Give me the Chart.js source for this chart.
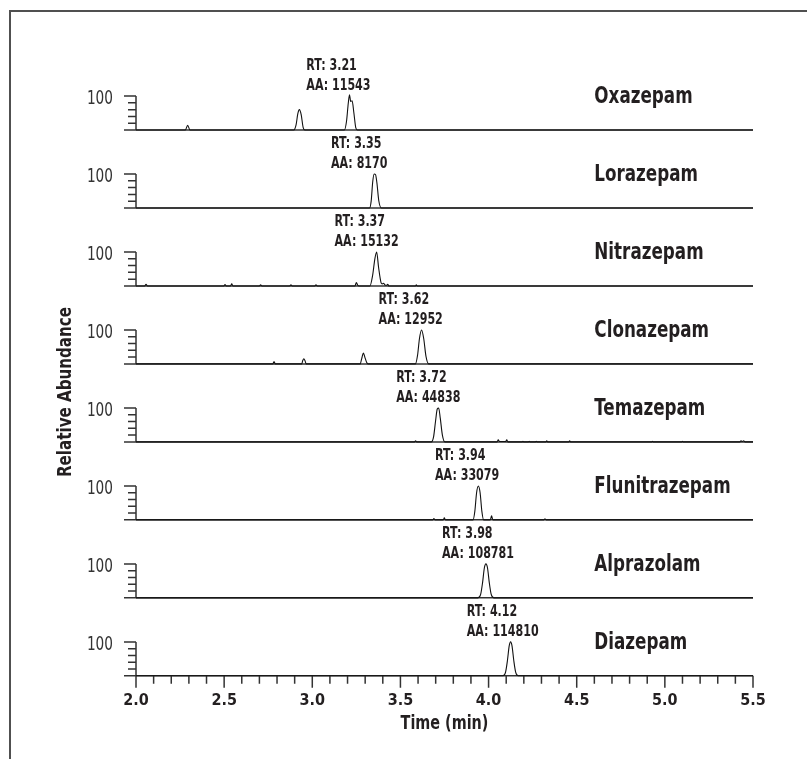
<!DOCTYPE html>
<html>
<head>
<meta charset="utf-8">
<script src="https://cdn.jsdelivr.net/npm/chart.js@4.4.1/dist/chart.umd.min.js"></script>
<style>
  html, body { margin: 0; padding: 0; background: #fff; }
  #wrap { position: relative; width: 807px; height: 759px; overflow: hidden; }
  #frame { position: absolute; left: 9px; top: 10px; right: -5px; bottom: -5px;
           border-top: 2px solid #505050; border-left: 2px solid #505050; }
  canvas { position: absolute; left: 0; top: 0; }
</style>
</head>
<body>
<div id="wrap">
  <div id="frame"></div>
  <canvas id="chromChart" width="807" height="759"></canvas>
</div>
<script>
const compounds = ['Oxazepam', 'Lorazepam', 'Nitrazepam', 'Clonazepam', 'Temazepam', 'Flunitrazepam', 'Alprazolam', 'Diazepam'];
const retentionTimes = ['3.21', '3.35', '3.37', '3.62', '3.72', '3.94', '3.98', '4.12'];
const peakAreas = ['11543', '8170', '15132', '12952', '44838', '33079', '108781', '114810'];
const timeTicks = [2.0, 2.5, 3.0, 3.5, 4.0, 4.5, 5.0, 5.5];
const abundanceTicks = [0, 20, 40, 60, 80, 100];

const oxazepam = [[2.0,0],[2.28,0],[2.293,14],[2.306,0],[2.895,0],[2.908,15],[2.918,48],[2.927,60],[2.937,45],
  [2.948,8],[2.958,0],[3.182,0],[3.194,25],[3.204,78],[3.211,104],[3.218,84],[3.226,86],[3.236,50],[3.247,6],[3.256,0],[5.5,0]];
const lorazepam = [[2.0,0],[3.325,0],[3.334,20],[3.343,78],[3.351,100],[3.359,98],[3.367,72],[3.377,22],[3.392,0],[5.5,0]];
const nitrazepam = [[2.0,0],[2.05,0],[2.057,5],[2.064,0],[2.498,0],[2.505,4],[2.512,0],[2.536,0],[2.543,6],[2.55,0],
  [2.7,0],[2.707,3],[2.714,0],[2.872,0],[2.879,3],[2.886,0],[3.014,0],[3.021,3],[3.028,0],[3.242,0],[3.25,10],[3.258,2],
  [3.265,0],[3.327,0],[3.342,30],[3.355,80],[3.365,100],[3.376,55],[3.39,10],[3.397,6],[3.404,8],[3.412,3],[3.422,2],
  [3.428,5],[3.434,0],[3.585,0],[3.59,3],[3.595,0],[5.5,0]];
const clonazepam = [[2.0,0],[2.776,0],[2.783,7],[2.79,0],[2.94,0],[2.946,10],[2.952,15],[2.959,9],[2.965,0],[3.272,0],
  [3.28,15],[3.29,32],[3.298,20],[3.308,5],[3.316,0],[3.585,0],[3.597,25],[3.608,75],[3.62,100],[3.632,75],[3.645,22],[3.66,0],[5.5,0]];
const temazepam = [[2.0,0],[3.58,0],[3.586,3],[3.592,0],[3.675,0],[3.688,15],[3.699,60],[3.709,97],[3.717,100],[3.726,70],
  [3.738,20],[3.752,0],[4.048,0],[4.055,6],[4.062,1],[4.097,1],[4.103,6],[4.11,0],[4.19,0],[4.195,2],[4.2,0],[4.225,0],
  [4.23,2],[4.235,0],[4.265,0],[4.27,2],[4.275,0],[4.325,0],[4.33,3],[4.335,0],[4.455,0],[4.46,3],[4.465,0],[4.925,0],
  [4.93,2],[4.935,0],[5.095,0],[5.1,2],[5.105,0],[5.425,0],[5.432,3],[5.44,1],[5.447,3],[5.455,0],[5.5,0]];
const flunitrazepam = [[2.0,0],[3.684,0],[3.69,4],[3.696,0],[3.743,0],[3.749,6],[3.755,0],[3.912,0],[3.922,25],[3.932,80],
  [3.942,100],[3.952,80],[3.962,25],[3.972,0],[4.01,0],[4.017,12],[4.024,0],[4.315,0],[4.32,3],[4.325,0],[5.5,0]];
const alprazolam = [[2.0,0],[3.94,0],[3.955,10],[3.966,45],[3.976,88],[3.985,100],[3.994,88],[4.004,45],[4.015,10],[4.03,0],[5.5,0]];
const diazepam = [[2.0,0],[4.082,0],[4.096,10],[4.107,45],[4.117,88],[4.125,100],[4.133,88],[4.143,45],[4.154,10],[4.168,0],[5.5,0]];

const traces = [oxazepam, lorazepam, nitrazepam, clonazepam, temazepam, flunitrazepam, alprazolam, diazepam];

// Estilo
const FONT = '"DejaVu Sans Condensed", "Liberation Sans Narrow", "Liberation Sans", sans-serif';
const INK = '#231f20';
const LINE = '#333333';
const Y_MAX = 230;       // 100 % ocupa ~34 px de cada panel
const MINOR_STEP = 0.1;  // marcas menores del eje de tiempo
const NAME_X = 4.6;      // posición (min) de los nombres de compuestos

Chart.defaults.font.family = FONT;
Chart.defaults.color = INK;

// Texto estrecho: la fuente disponible es más ancha que la del original
function narrowText(ctx, text, x, y, squeeze) {
  ctx.save();
  ctx.translate(x, y);
  ctx.scale(squeeze, 1);
  ctx.fillText(text, 0, 0);
  ctx.restore();
}

const scales = {
  x: {
    type: 'linear',
    position: 'bottom',
    min: 2.0,
    max: 5.5,
    afterBuildTicks: scale => { scale.ticks = timeTicks.map(v => ({ value: v })); },
    ticks: {
      font: { size: 16, weight: 'bold' },
      color: INK,
      padding: 3,
      maxRotation: 0,
      callback: v => v.toFixed(1)
    },
    grid: { display: true, drawOnChartArea: false, drawTicks: true, tickLength: 12, color: 'transparent', tickColor: 'transparent' },
    border: { display: false }
  }
};
// Los ejes apilados se colocan de abajo arriba: se crean al revés
for (let i = compounds.length - 1; i >= 0; i--) {
  scales['y' + i] = {
    type: 'linear',
    position: 'left',
    stack: 'panels',
    stackWeight: 1,
    min: 0,
    max: Y_MAX,
    display: false
  };
}

// Dibuja ejes de cada panel, textos y marcas del eje de tiempo
const panelDecor = {
  id: 'panelDecor',
  beforeDatasetsDraw(chart) {
    const { ctx, chartArea } = chart;
    const xs = chart.scales.x;
    ctx.save();
    ctx.strokeStyle = LINE;
    ctx.lineWidth = 1.5;
    compounds.forEach((name, i) => {
      const ys = chart.scales['y' + i];
      const y0 = ys.getPixelForValue(0);
      const y100 = ys.getPixelForValue(100);
      ctx.beginPath();
      ctx.moveTo(chartArea.left - 12, y0);
      ctx.lineTo(chartArea.right, y0);
      ctx.moveTo(chartArea.left, y0);
      ctx.lineTo(chartArea.left, y100);
      abundanceTicks.forEach(v => {
        if (v === 0) return;
        const y = ys.getPixelForValue(v);
        ctx.moveTo(chartArea.left - (v === 100 ? 12 : 8), y);
        ctx.lineTo(chartArea.left, y);
      });
      ctx.stroke();
    });
    // marcas del eje de tiempo
    const yb = chart.scales['y' + (compounds.length - 1)].getPixelForValue(0);
    ctx.beginPath();
    for (let k = 0; k <= Math.round((xs.max - xs.min) / MINOR_STEP); k++) {
      const x = xs.getPixelForValue(xs.min + k * MINOR_STEP);
      ctx.moveTo(x, yb);
      ctx.lineTo(x, yb + (k % 5 === 0 ? 12 : 8));
    }
    ctx.stroke();
    ctx.restore();
  },
  afterDraw(chart) {
    const { ctx, chartArea } = chart;
    const xs = chart.scales.x;
    ctx.save();
    ctx.textBaseline = 'middle';
    compounds.forEach((name, i) => {
      const ys = chart.scales['y' + i];
      const y0 = ys.getPixelForValue(0);
      const y100 = ys.getPixelForValue(100);

      ctx.fillStyle = '#333';
      ctx.textAlign = 'right';
      ctx.font = '19px ' + FONT;
      narrowText(ctx, '100', chartArea.left - 23, y100 + 3, 0.8);

      ctx.fillStyle = INK;
      ctx.textAlign = 'left';
      ctx.font = 'bold 23px ' + FONT;
      narrowText(ctx, name, xs.getPixelForValue(NAME_X), y100 + 1, 0.81);

      const ax = xs.getPixelForValue(parseFloat(retentionTimes[i])) - 43;
      ctx.font = 'bold 16px ' + FONT;
      narrowText(ctx, 'RT: ' + retentionTimes[i], ax, y0 - 64, 0.77);
      narrowText(ctx, 'AA: ' + peakAreas[i], ax, y0 - 44, 0.77);
    });

    ctx.textAlign = 'center';
    ctx.font = 'bold 20px ' + FONT;
    narrowText(ctx, 'Time (min)', (chartArea.left + chartArea.right) / 2, chartArea.bottom + 48, 0.8);

    ctx.translate(66, 392);
    ctx.rotate(-Math.PI / 2);
    narrowText(ctx, 'Relative Abundance', 0, 0, 0.84);
    ctx.restore();
  }
};

const chart = new Chart(document.getElementById('chromChart'), {
  type: 'line',
  data: {
    datasets: traces.map((pts, i) => ({
      label: compounds[i],
      data: pts.map(p => ({ x: p[0], y: p[1] })),
      yAxisID: 'y' + i,
      borderColor: '#111',
      borderWidth: 1.1,
      pointRadius: 0,
      fill: false,
      cubicInterpolationMode: 'monotone',
      clip: false
    }))
  },
  options: {
    responsive: false,
    animation: false,
    layout: { padding: { left: 136, right: 54, top: 52, bottom: 46 } },
    scales: scales,
    plugins: {
      legend: { display: false },
      tooltip: { enabled: false }
    }
  },
  plugins: [panelDecor]
});
</script>
</body>
</html>
